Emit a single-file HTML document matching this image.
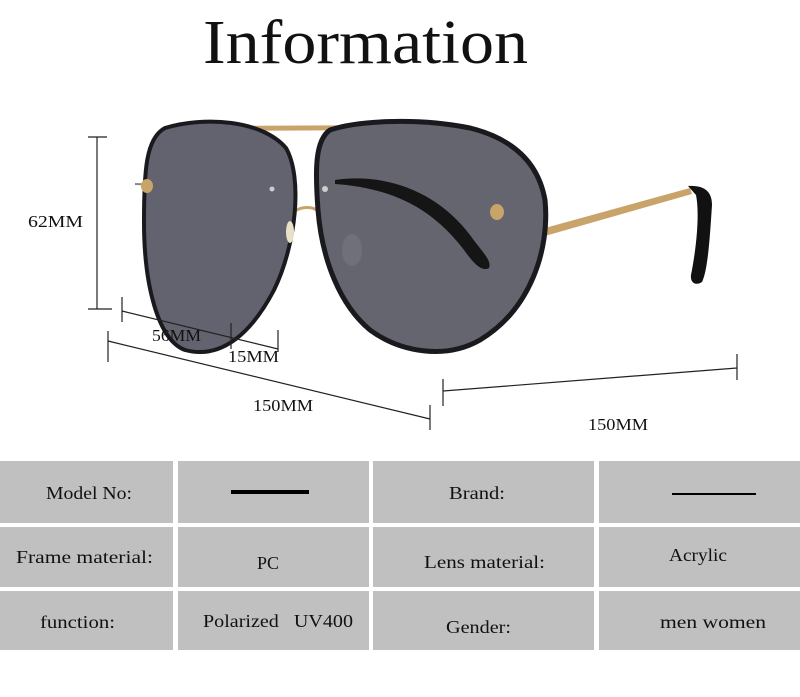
<!DOCTYPE html>
<html><head><style>html,body{margin:0;padding:0;background:#fff;}svg{display:block}</style></head>
<body>
<svg width="800" height="697" viewBox="0 0 800 697" xmlns="http://www.w3.org/2000/svg" font-family="Liberation Serif, serif">
<rect width="800" height="697" fill="#fff"/>
<text x="203" y="63" font-size="62" textLength="325" lengthAdjust="spacingAndGlyphs" fill="#111">Information</text>

<!-- glasses -->
<path d="M215,126 L400,125 L400,130 L215,131 Z" fill="#c9a46a"/>
<path d="M290,215 C300,205 315,205 322,215" stroke="#c9a46a" stroke-width="3" fill="none"/>
<line x1="135" y1="184" x2="280" y2="189" stroke="#888" stroke-width="2"/>
<path d="M545,228 L690,188 L692,194 L545,236 Z" fill="#c9a46a"/>
<path d="M688,186 C705,185 712,192 712,205 C710,235 708,270 702,282 C696,286 690,283 691,275 C696,250 700,215 696,195 Z" fill="#111"/>
<!-- left lens -->
<path d="M165,128 C205,116 262,120 286,148 C303,178 296,245 274,290 C252,332 222,360 185,350 C158,340 144,285 144,222 C144,170 146,138 165,128 Z" fill="#62636f" stroke="#1a1a1e" stroke-width="4"/>
<!-- right lens -->
<path d="M330,130 C360,120 420,118 470,128 C510,138 538,160 545,200 C550,250 530,310 480,340 C445,360 400,352 370,330 C340,305 322,260 318,210 C315,170 315,140 330,130 Z" fill="#64656f" stroke="#1a1a1e" stroke-width="5"/>
<path d="M335,180 C390,172 440,195 470,235 C482,252 492,260 489,268 C482,272 474,264 464,250 C432,208 392,188 335,184 Z" fill="#151515"/>
<circle cx="325" cy="189" r="3" fill="#ccc"/>
<circle cx="272" cy="189" r="2.5" fill="#ccc"/>
<ellipse cx="497" cy="212" rx="7" ry="8" fill="#c9a46a"/>
<ellipse cx="147" cy="186" rx="6" ry="7" fill="#c9a46a"/>
<ellipse cx="290" cy="232" rx="4" ry="11" fill="#e8e0c8"/>
<ellipse cx="352" cy="250" rx="10" ry="16" fill="#6f707a"/>

<!-- dimension lines -->
<g stroke="#222" stroke-width="1.2" fill="none">
<line x1="97" y1="137" x2="97" y2="309"/>
<line x1="88" y1="137" x2="107" y2="137"/>
<line x1="88" y1="309" x2="112" y2="309"/>
<line x1="122" y1="297" x2="122" y2="322"/>
<line x1="122" y1="311" x2="278" y2="349"/>
<line x1="231" y1="323" x2="231" y2="349"/>
<line x1="278" y1="330" x2="278" y2="352"/>
<line x1="108" y1="331" x2="108" y2="362"/>
<line x1="108" y1="341" x2="430" y2="419"/>
<line x1="430" y1="405" x2="430" y2="430"/>
<line x1="443" y1="379" x2="443" y2="406"/>
<line x1="443" y1="391" x2="737" y2="368"/>
<line x1="737" y1="354" x2="737" y2="380"/>
</g>
<g font-size="17" fill="#111">
<text x="28" y="227" textLength="55" lengthAdjust="spacingAndGlyphs">62MM</text>
<text x="152" y="341" textLength="49" lengthAdjust="spacingAndGlyphs">56MM</text>
<text x="228" y="362" textLength="51" lengthAdjust="spacingAndGlyphs">15MM</text>
<text x="253" y="411" textLength="60" lengthAdjust="spacingAndGlyphs">150MM</text>
<text x="588" y="430" textLength="60" lengthAdjust="spacingAndGlyphs">150MM</text>
</g>

<!-- table -->
<g fill="#c0c0c0">
<rect x="0" y="461" width="173" height="62"/><rect x="178" y="461" width="191" height="62"/><rect x="373" y="461" width="221" height="62"/><rect x="599" y="461" width="201" height="62"/>
<rect x="0" y="527" width="173" height="60"/><rect x="178" y="527" width="191" height="60"/><rect x="373" y="527" width="221" height="60"/><rect x="599" y="527" width="201" height="60"/>
<rect x="0" y="591" width="173" height="59"/><rect x="178" y="591" width="191" height="59"/><rect x="373" y="591" width="221" height="59"/><rect x="599" y="591" width="201" height="59"/>
</g>
<rect x="231" y="490" width="78" height="4" fill="#000"/>
<rect x="672" y="493" width="84" height="2" fill="#000"/>
<g font-size="18" fill="#111">
<text x="46" y="499" textLength="86" lengthAdjust="spacingAndGlyphs">Model No:</text>
<text x="16" y="563" textLength="137" lengthAdjust="spacingAndGlyphs">Frame material:</text>
<text x="257" y="569" textLength="22" lengthAdjust="spacingAndGlyphs">PC</text>
<text x="40" y="628" textLength="75" lengthAdjust="spacingAndGlyphs">function:</text>
<text x="203" y="627" textLength="150" lengthAdjust="spacingAndGlyphs">Polarized&#160;&#160; UV400</text>
<text x="449" y="499" textLength="56" lengthAdjust="spacingAndGlyphs">Brand:</text>
<text x="424" y="568" textLength="121" lengthAdjust="spacingAndGlyphs">Lens material:</text>
<text x="669" y="561" textLength="58" lengthAdjust="spacingAndGlyphs">Acrylic</text>
<text x="446" y="633" textLength="65" lengthAdjust="spacingAndGlyphs">Gender:</text>
<text x="660" y="628" textLength="106" lengthAdjust="spacingAndGlyphs">men women</text>
</g>
</svg>
</body></html>
